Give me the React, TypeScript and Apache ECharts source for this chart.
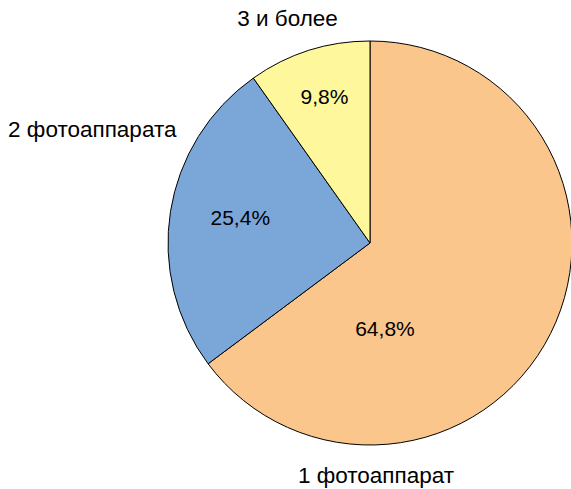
import React, { useEffect, useRef } from "react";
import * as echarts from "echarts";

const categories = ["1 фотоаппарат", "2 фотоаппарата", "3 и более"];
const values = [64.8, 25.4, 9.8];
const colors = ["#FBC68C", "#7BA7D8", "#FFF79C"];

export default function App() {
  const ref = useRef<HTMLDivElement>(null);
  useEffect(() => {
    document.body.style.margin = "0";
    const chart = echarts.init(ref.current!, null, { renderer: "svg" });
    const pctOffsets = [[-78, 39], [-27, -9], [-14, -47]];
    const nameOffsets = [[-87, 186], [-175, -97], [-51, -125]];
    const font = { fontFamily: "Liberation Sans", color: "#000" };
    chart.setOption({
      animation: false,
      backgroundColor: "#fff",
      series: [
        {
          type: "pie",
          center: [370, 243],
          radius: [0, 202],
          startAngle: 90,
          clockwise: true,
          silent: true,
          itemStyle: { borderColor: "#000", borderWidth: 1 },
          label: {
            show: true,
            position: "inside",
            ...font,
            fontSize: 21,
            formatter: (p: any) => p.value.toFixed(1).replace(".", ",") + "%",
          },
          labelLine: { show: false },
          data: categories.map((c, i) => ({
            name: c,
            value: values[i],
            itemStyle: { color: colors[i] },
            label: { offset: pctOffsets[i] },
          })),
        },
        {
          type: "pie",
          center: [370, 243],
          radius: [0, 202],
          startAngle: 90,
          clockwise: true,
          silent: true,
          itemStyle: { color: "transparent", borderWidth: 0 },
          label: { show: true, position: "inside", ...font, fontSize: 22.5, lineHeight: 24, formatter: "{b}" },
          labelLine: { show: false },
          data: categories.map((c, i) => ({
            name: c,
            value: values[i],
            label: { offset: nameOffsets[i] },
          })),
        },
      ],
    });
    return () => chart.dispose();
  }, []);
  return <div ref={ref} style={{ width: 571, height: 489 }} />;
}
